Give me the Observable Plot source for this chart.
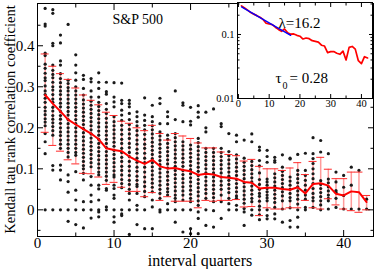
<!DOCTYPE html>
<html><head><meta charset="utf-8">
<script src="https://cdn.jsdelivr.net/npm/d3@7"></script>
<script src="https://cdn.jsdelivr.net/npm/@observablehq/plot@0.6"></script>
<style>
body{margin:0;background:white;}
#chart{position:relative;width:374px;height:269px;font-family:"Liberation Serif",serif;}
#chart svg{position:absolute;}
</style></head><body><div id="chart"></div>
<script>
const intervals = [1,2,3,4,5,6,7,8,9,10,11,12,13,14,15,16,17,18,19,20,21,22,23,24,25,26,27,28,29,30,31,32,33,34,35,36,37,38,39,40,41,42,43];
const meanTau = [0.280,0.259,0.240,0.220,0.208,0.197,0.186,0.172,0.150,0.146,0.143,0.130,0.120,0.112,0.122,0.106,0.101,0.102,0.097,0.094,0.085,0.088,0.086,0.080,0.078,0.076,0.068,0.066,0.052,0.054,0.054,0.051,0.049,0.055,0.040,0.063,0.065,0.059,0.039,0.035,0.045,0.043,0.019];
const errHigh = [0.38,0.35,0.332,0.318,0.297,0.28,0.267,0.256,0.238,0.23,0.216,0.211,0.2,0.193,0.206,0.186,0.17,0.186,0.18,0.174,0.163,0.151,0.151,0.141,0.135,0.132,0.119,0.123,0.106,0.1,0.1,0.096,0.102,0.115,0.086,0.118,0.128,0.099,0.076,0.076,0.092,0.092,0.035];
const errLow = [0.189,0.157,0.143,0.122,0.112,0.089,0.088,0.08,0.062,0.067,0.055,0.045,0.045,0.032,0.042,0.023,0.032,0.021,0.021,0.021,0.005,0.023,0.021,0.023,0.023,0.025,0.007,0.008,-0.014,0.005,0.002,0.002,0.005,0.005,0.023,0.005,0.002,0.027,0.012,0.002,-0.002,-0.006,0.0];
const tauByInterval = [
 [0.491,0.453,0.448,0.382,0.376,0.355,0.345,0.333,0.322,0.315,0.302,0.29,0.281,0.272,0.262,0.25,0.241,0.232,0.222,0.214,0.205,0.186,0.166,0.137,0.0],
 [0.488,0.479,0.406,0.4,0.353,0.34,0.33,0.322,0.311,0.3,0.292,0.281,0.27,0.262,0.25,0.241,0.23,0.221,0.212,0.203,0.193,0.182,0.108,0.097,0.0],
 [0.426,0.407,0.363,0.353,0.332,0.32,0.31,0.3,0.29,0.281,0.27,0.26,0.251,0.24,0.23,0.221,0.211,0.2,0.19,0.181,0.17,0.16,0.15,0.109,0.097,0.073,0.0],
 [0.452,0.316,0.308,0.298,0.29,0.28,0.27,0.26,0.25,0.24,0.231,0.22,0.21,0.2,0.19,0.18,0.17,0.16,0.15,0.14,0.129,0.085,0.069,0.043,0.0,-0.028],
 [0.378,0.353,0.334,0.316,0.3,0.29,0.28,0.27,0.26,0.25,0.24,0.23,0.22,0.21,0.2,0.19,0.18,0.17,0.16,0.15,0.14,0.133,0.093,0.048,0.024,0.0,-0.036],
 [0.328,0.318,0.296,0.28,0.268,0.258,0.248,0.238,0.228,0.218,0.208,0.198,0.188,0.178,0.168,0.158,0.148,0.138,0.128,0.118,0.108,0.1,0.089,0.073,0.02,0.0,-0.044],
 [0.32,0.312,0.29,0.275,0.265,0.255,0.245,0.235,0.225,0.215,0.205,0.195,0.185,0.175,0.165,0.155,0.145,0.135,0.125,0.115,0.105,0.081,0.06,0.036,0.02,0.0,-0.02],
 [0.334,0.311,0.296,0.275,0.262,0.252,0.242,0.232,0.222,0.212,0.202,0.192,0.182,0.172,0.162,0.152,0.142,0.132,0.122,0.112,0.102,0.092,0.085,0.06,0.051,0.024,0.0,-0.005,-0.017],
 [0.311,0.288,0.282,0.259,0.245,0.235,0.223,0.212,0.202,0.192,0.182,0.172,0.162,0.152,0.142,0.132,0.122,0.112,0.102,0.092,0.082,0.072,0.052,0.048,0.007,0.0],
 [0.31,0.275,0.263,0.251,0.227,0.215,0.205,0.195,0.185,0.175,0.165,0.155,0.145,0.135,0.125,0.115,0.105,0.095,0.085,0.08,0.06,0.052,0.036,0.028,0.0,-0.017,-0.03],
 [0.309,0.267,0.259,0.243,0.231,0.218,0.206,0.195,0.184,0.172,0.162,0.15,0.14,0.128,0.118,0.106,0.096,0.085,0.074,0.064,0.054,0.0,-0.01,-0.014],
 [0.267,0.259,0.251,0.235,0.22,0.208,0.196,0.185,0.174,0.162,0.152,0.14,0.13,0.118,0.106,0.095,0.084,0.072,0.062,0.05,0.04,0.024,0.0,-0.06],
 [0.239,0.227,0.215,0.205,0.193,0.182,0.17,0.16,0.148,0.138,0.126,0.116,0.104,0.094,0.082,0.072,0.062,0.057,0.04,0.011,0.0,-0.036],
 [0.273,0.231,0.218,0.206,0.195,0.184,0.172,0.16,0.15,0.138,0.126,0.115,0.104,0.092,0.08,0.068,0.057,0.045,0.032,0.0,-0.046],
 [0.255,0.227,0.215,0.205,0.195,0.185,0.175,0.165,0.155,0.145,0.135,0.125,0.115,0.105,0.095,0.085,0.075,0.065,0.055,0.044,0.024,0.007,-0.046],
 [0.272,0.259,0.21,0.19,0.18,0.17,0.16,0.15,0.14,0.13,0.12,0.11,0.1,0.09,0.08,0.07,0.06,0.05,0.04,0.028,0.0,-0.005],
 [0.239,0.227,0.21,0.182,0.172,0.162,0.152,0.142,0.132,0.122,0.112,0.102,0.092,0.082,0.072,0.062,0.052,0.044,0.036,0.015,0.0],
 [0.29,0.22,0.186,0.176,0.166,0.156,0.146,0.136,0.126,0.116,0.106,0.096,0.086,0.076,0.066,0.056,0.046,0.036,0.028,0.02,0.0,-0.03],
 [0.261,0.255,0.215,0.166,0.156,0.146,0.136,0.126,0.116,0.106,0.096,0.086,0.076,0.066,0.056,0.046,0.036,0.024,0.0,-0.054],
 [0.25,0.216,0.207,0.158,0.148,0.138,0.128,0.118,0.108,0.098,0.088,0.078,0.068,0.058,0.048,0.038,0.028,0.02,0.0,-0.046,-0.058],
 [0.254,0.238,0.226,0.174,0.164,0.154,0.144,0.134,0.124,0.114,0.104,0.094,0.084,0.074,0.064,0.054,0.044,0.034,0.022,0.011,-0.005,-0.021,-0.058],
 [0.238,0.2,0.19,0.15,0.14,0.13,0.12,0.11,0.1,0.09,0.08,0.07,0.06,0.05,0.04,0.028,0.0,-0.038],
 [0.246,0.15,0.14,0.13,0.12,0.11,0.1,0.09,0.08,0.07,0.06,0.05,0.04,0.03,0.02,-0.002,-0.042],
 [0.21,0.203,0.15,0.14,0.13,0.12,0.11,0.1,0.09,0.08,0.07,0.06,0.05,0.036,0.02,-0.021],
 [0.186,0.142,0.132,0.122,0.112,0.102,0.092,0.082,0.072,0.062,0.052,0.042,0.028,0.015,0.0],
 [0.182,0.166,0.134,0.124,0.114,0.104,0.094,0.084,0.074,0.064,0.054,0.044,0.034,0.028,0.011,0.0],
 [0.17,0.126,0.116,0.106,0.096,0.086,0.076,0.066,0.056,0.046,0.036,0.026,0.016,0.003,-0.005,-0.038],
 [0.185,0.166,0.118,0.108,0.098,0.088,0.078,0.068,0.058,0.048,0.038,0.028,0.02,0.0,-0.013],
 [0.153,0.145,0.12,0.107,0.09,0.074,0.062,0.05,0.04,0.033,0.021,0.009,0.0,-0.012,-0.024],
 [0.145,0.13,0.116,0.075,0.068,0.06,0.052,0.044,0.036,0.029,0.022,0.0,-0.014,-0.022],
 [0.128,0.12,0.116,0.088,0.078,0.068,0.058,0.048,0.038,0.028,0.018,0.006,-0.01,-0.022],
 [0.134,0.104,0.094,0.084,0.074,0.064,0.054,0.044,0.034,0.022,0.002,-0.03],
 [0.126,0.124,0.08,0.07,0.06,0.05,0.04,0.03,0.022,0.005,-0.026,-0.042],
 [0.135,0.096,0.086,0.076,0.066,0.056,0.046,0.036,0.026,0.014,0.0,-0.018,-0.042],
 [0.138,0.096,0.084,0.072,0.06,0.048,0.036,0.026,0.006,0.0],
 [0.176,0.137,0.125,0.113,0.1,0.088,0.076,0.064,0.052,0.04,0.03,0.022,0.006],
 [0.169,0.141,0.071,0.062,0.052,0.042,0.032,0.022,0.012,0.0],
 [0.137,0.075,0.066,0.056,0.046,0.036,0.028,0.022,0.002],
 [0.092,0.068,0.047,0.043,0.028,0.006],
 [0.084,0.055,0.035,0.002],
 [0.104,0.06,0.002],
 [0.096,0.002],
 [0.026,0.002]
];
const fitX = [1, 17];
const fitTau = [0.27, 0.097];
const xMajor = [0,10,20,30,40];
const xMinor = [5,15,25,35];
const yMajor = [0,0.1,0.2,0.3,0.4];
const yMinor = [-0.05,0.05,0.15,0.25,0.35,0.45];
const insetYMajor = [0.01,0.1];
const insetYMinor = [0.02,0.03,0.04,0.05,0.06,0.07,0.08,0.09,0.2,0.3];
const yTitle = "Kendall tau rank correlation coefficient";
const xTitle = "interval quarters";

const points = tauByInterval.flatMap((col, i) => col.map(v => ({x: intervals[i], y: v})));
const summary = intervals.map((x, i) => ({x, mean: meanTau[i], hi: errHigh[i], lo: errLow[i]}));
const insetData = summary.filter(d => d.x <= 42);
const fit = fitX.map((x, i) => ({x, y: fitTau[i]}));
const fmt = d => String(+d.toFixed(2));
const font = "Liberation Serif";

const ticks = (ax, anchor, t, size) => ax({ticks: t, anchor, tickSize: -size, tickFormat: () => "", label: null});

const main = Plot.plot({
  width: 374, height: 269,
  marginLeft: 37, marginRight: 1, marginTop: 3, marginBottom: 33,
  style: {fontFamily: font, fontSize: "15px", background: "white", overflow: "visible", color: "black"},
  x: {domain: [0, 43.9], label: null},
  y: {domain: [-0.065, 0.503], label: null},
  marks: [
    Plot.ruleX(summary, {x: "x", y1: "lo", y2: "hi", stroke: "#ff7a7a", strokeOpacity: 0.75, strokeWidth: 1.5}),
    Plot.dot(points, {x: "x", y: "y", r: 1.6, fill: "#1a1a1a"}),
    Plot.ruleY(summary, {y: "hi", x1: "x", x2: "x", insetLeft: -4, insetRight: -4, stroke: "#ff2a2a", strokeWidth: 1}),
    Plot.ruleY(summary, {y: "lo", x1: "x", x2: "x", insetLeft: -4, insetRight: -4, stroke: "#ff2a2a", strokeWidth: 1}),
    Plot.line(summary, {x: "x", y: "mean", stroke: "#ff0000", strokeWidth: 2}),
    Plot.frame({stroke: "black"}),
    ticks(Plot.axisX, "bottom", xMajor, 6), ticks(Plot.axisX, "bottom", xMinor, 3.5),
    ticks(Plot.axisX, "top", xMajor, 6), ticks(Plot.axisX, "top", xMinor, 3.5),
    ticks(Plot.axisY, "left", yMajor, 6), ticks(Plot.axisY, "left", yMinor, 3.5),
    ticks(Plot.axisY, "right", yMajor, 6), ticks(Plot.axisY, "right", yMinor, 3.5),
    Plot.axisX({ticks: xMajor, anchor: "bottom", tickSize: 0, tickPadding: 1, tickFormat: fmt, label: null}),
    Plot.axisY({ticks: yMajor, anchor: "left", tickSize: 0, tickPadding: 3, tickFormat: fmt, label: null}),
    Plot.text(["S&P 500"], {text: d => d, frameAnchor: "top-left", dx: 75, dy: 20, lineAnchor: "bottom", textAnchor: "start", fontSize: 14})
  ]
});

const inset = Plot.plot({
  width: 174, height: 116,
  marginLeft: 37, marginRight: 2, marginTop: 2, marginBottom: 18,
  style: {fontFamily: font, fontSize: "10.5px", background: "transparent", overflow: "visible", color: "black"},
  x: {domain: [-0.3, 43.6], label: null},
  y: {type: "log", domain: [0.01, 0.316], label: null},
  marks: [
    Plot.frame({fill: "white"}),
    Plot.line(insetData, {x: "x", y: "mean", stroke: "#ff0000", strokeWidth: 1.7}),
    Plot.line(fit, {x: "x", y: "y", stroke: "#0000ff", strokeWidth: 1.3}),
    Plot.frame({stroke: "black"}),
    ticks(Plot.axisX, "bottom", xMajor, 4), ticks(Plot.axisX, "bottom", xMinor, 2.5),
    ticks(Plot.axisX, "top", xMajor, 4), ticks(Plot.axisX, "top", xMinor, 2.5),
    ticks(Plot.axisY, "left", insetYMajor, 4), ticks(Plot.axisY, "left", insetYMinor, 2.5),
    ticks(Plot.axisY, "right", insetYMajor, 4), ticks(Plot.axisY, "right", insetYMinor, 2.5),
    Plot.axisX({ticks: xMajor, anchor: "bottom", tickSize: 0, tickPadding: 1, tickFormat: fmt, label: null}),
    Plot.axisY({ticks: insetYMajor, anchor: "left", tickSize: 0, tickPadding: 3, tickFormat: fmt, label: null}),
    Plot.text(["λ=16.2"], {text: d => d, frameAnchor: "top-left", dx: 41, dy: 25, lineAnchor: "bottom", textAnchor: "start", fontSize: 15}),
    Plot.text(["τ"], {text: d => d, frameAnchor: "top-left", dx: 38, dy: 80, lineAnchor: "bottom", textAnchor: "start", fontSize: 15}),
    Plot.text(["0"], {text: d => d, frameAnchor: "top-left", dx: 45, dy: 86, lineAnchor: "bottom", textAnchor: "start", fontSize: 10}),
    Plot.text(["= 0.28"], {text: d => d, frameAnchor: "top-left", dx: 52, dy: 80, lineAnchor: "bottom", textAnchor: "start", fontSize: 15})
  ]
});

// axis titles
const svgMain = d3.select(main.tagName.toLowerCase() === "svg" ? main : main.querySelector("svg"));
svgMain.append("text")
  .attr("transform", "translate(10,119.5) rotate(-90)")
  .attr("text-anchor", "middle").attr("dy", "0.32em")
  .attr("font-size", 14.5).attr("fill", "black")
  .text(yTitle);
svgMain.append("text")
  .attr("x", 200).attr("y", 261)
  .attr("text-anchor", "middle").attr("dy", "0.32em")
  .attr("font-size", 16).attr("fill", "black")
  .text(xTitle);

const chart = document.getElementById("chart");
main.style.left = "0px"; main.style.top = "0px";
inset.style.left = "200px"; inset.style.top = "0px";
chart.appendChild(main);
chart.appendChild(inset);
</script></body></html>
